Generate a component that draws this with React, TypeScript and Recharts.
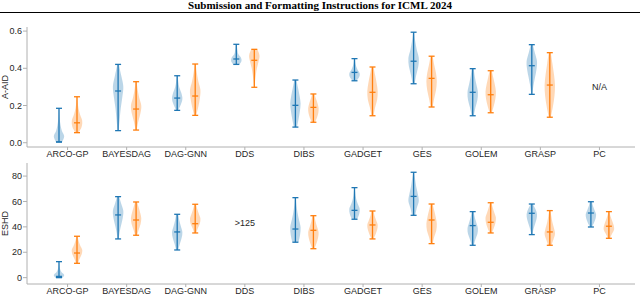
import React from "react";
import { ComposedChart, Bar, XAxis, YAxis, ReferenceDot } from "recharts";

const methods = ["ARCO-GP", "BAYESDAG", "DAG-GNN", "DDS", "DIBS", "GADGET", "GES", "GOLEM", "GRASP", "PC"];

// [min, median, max] per method, null = not available
const aaidBlue = [
  [0.004, 0.004, 0.185], [0.065, 0.278, 0.421], [0.174, 0.24, 0.36], [0.421, 0.45, 0.529], [0.084, 0.201, 0.337],
  [0.333, 0.378, 0.452], [0.317, 0.438, 0.594], [0.145, 0.271, 0.398], [0.26, 0.414, 0.527], null,
];
const aaidOrange = [
  [0.054, 0.107, 0.247], [0.068, 0.181, 0.328], [0.147, 0.251, 0.423], [0.298, 0.443, 0.502], [0.11, 0.19, 0.262],
  [0.145, 0.271, 0.407], [0.192, 0.346, 0.465], [0.161, 0.258, 0.387], [0.137, 0.31, 0.484], null,
];
const eshdBlue = [
  [0, 1, 12.6], [30.5, 49.4, 63.8], [21.8, 36, 49.9], null, [27.9, 38.3, 63],
  [46, 53, 70.9], [49.1, 64, 83], [25.5, 41, 52], [33.9, 50.7, 58], [39.9, 50.9, 59.8],
];
const eshdOrange = [
  [11.3, 19.4, 32.6], [33.4, 45.4, 59.6], [35.2, 42.5, 57.8], null, [22.8, 37.3, 48.8],
  [30.5, 41.5, 52.5], [26.8, 45.4, 58], [35.2, 43.6, 59], [25.5, 36, 52.8], [31, 40.5, 52],
];

// relative violin widths, from min (first) to max (last)
const aaidBlueShape = [
  [0.6, 1, 0.55, 0.3, 0.15, 0.08, 0.05], [0.1, 0.3, 0.5, 0.8, 1, 0.6, 0.15], [0.2, 0.7, 1, 0.8, 0.4, 0.2, 0.1],
  [0.6, 1, 0.9, 0.4, 0.25, 0.15, 0.1], [0.3, 0.6, 0.85, 1, 0.8, 0.5, 0.2], [0.4, 0.9, 1, 0.6, 0.3, 0.15, 0.1],
  [0.2, 0.5, 0.9, 1, 0.6, 0.3, 0.1], [0.2, 0.5, 0.9, 1, 0.7, 0.4, 0.2], [0.1, 0.3, 0.6, 0.9, 1, 0.6, 0.2], null,
];
const aaidOrangeShape = [
  [0.3, 0.9, 1, 0.6, 0.3, 0.15, 0.05], [0.1, 0.4, 0.8, 1, 0.6, 0.3, 0.1], [0.2, 0.6, 0.9, 1, 0.6, 0.3, 0.1],
  [0.05, 0.15, 0.3, 0.5, 0.8, 1, 0.6], [0.3, 0.7, 0.95, 1, 0.8, 0.5, 0.2], [0.2, 0.5, 0.9, 1, 0.8, 0.5, 0.2],
  [0.2, 0.5, 0.85, 1, 0.85, 0.5, 0.2], [0.2, 0.6, 0.9, 1, 0.8, 0.5, 0.2], [0.2, 0.6, 0.9, 1, 0.8, 0.5, 0.2], null,
];
const eshdBlueShape = [
  [0.7, 1, 0.5, 0.25, 0.12, 0.06, 0.03], [0.1, 0.3, 0.6, 0.9, 1, 0.6, 0.2], [0.2, 0.5, 0.85, 1, 0.7, 0.4, 0.2], null,
  [0.6, 0.9, 1, 0.7, 0.4, 0.2, 0.1], [0.5, 0.9, 1, 0.6, 0.3, 0.15, 0.05], [0.3, 0.6, 1, 0.8, 0.5, 0.3, 0.1],
  [0.2, 0.5, 0.9, 1, 0.7, 0.4, 0.2], [0.1, 0.3, 0.6, 0.9, 1, 0.7, 0.2], [0.2, 0.6, 0.9, 1, 0.7, 0.4, 0.2],
];
const eshdOrangeShape = [
  [0.2, 0.5, 0.9, 1, 0.6, 0.3, 0.1], [0.2, 0.5, 0.85, 1, 0.8, 0.5, 0.2], [0.2, 0.5, 0.9, 1, 0.7, 0.4, 0.15], null,
  [0.2, 0.6, 0.9, 1, 0.7, 0.4, 0.2], [0.2, 0.6, 0.9, 1, 0.7, 0.4, 0.2], [0.2, 0.5, 0.9, 1, 0.8, 0.5, 0.2],
  [0.2, 0.6, 0.9, 1, 0.7, 0.4, 0.15], [0.3, 0.7, 1, 0.8, 0.5, 0.3, 0.1], [0.2, 0.6, 1, 0.9, 0.6, 0.3, 0.1],
];

const aaidTicks = [0, 0.2, 0.4, 0.6];
const eshdTicks = [0, 20, 40, 60, 80];
const aaidNote = { method: "PC", value: 0.3, text: "N/A" };
const eshdNote = { method: "DDS", value: 43, text: ">125" };

const BLUE = "#1f77b4";
const ORANGE = "#ff7f0e";
const FRAME = "#b0b0b0";
const TXT = "#262626";
const FONT = "'Liberation Sans', Arial, sans-serif";

function buildRows(blue, orange, blueShape, orangeShape) {
  return methods.map((name, i) => ({
    name,
    blue: blue[i] ? [blue[i][0], blue[i][2]] : null,
    orange: orange[i] ? [orange[i][0], orange[i][2]] : null,
    blueStats: blue[i],
    orangeStats: orange[i],
    blueShape: blueShape[i],
    orangeShape: orangeShape[i],
  }));
}

function curve(pts) {
  let d = "";
  for (let i = 0; i < pts.length - 1; i++) {
    const p0 = pts[i - 1] || pts[i];
    const p1 = pts[i];
    const p2 = pts[i + 1];
    const p3 = pts[i + 2] || pts[i + 1];
    const c1 = [p1[0] + (p2[0] - p0[0]) / 6, p1[1] + (p2[1] - p0[1]) / 6];
    const c2 = [p2[0] - (p3[0] - p1[0]) / 6, p2[1] - (p3[1] - p1[1]) / 6];
    d += ` C${c1[0]},${c1[1]} ${c2[0]},${c2[1]} ${p2[0]},${p2[1]}`;
  }
  return d;
}

function violin(color, key) {
  return (props) => {
    const { x, y, width, height, payload } = props;
    const stats = payload[key + "Stats"];
    const shape = payload[key + "Shape"];
    if (!stats || !shape || height == null) return <g />;
    const cx = x + width / 2;
    const top = y;
    const bottom = y + height;
    const half = 5.2;
    const n = shape.length;
    const left = shape.map((w, i) => [cx - w * half, bottom - (i / (n - 1)) * height]);
    const right = shape.map((w, i) => [cx + w * half, bottom - (i / (n - 1)) * height]).reverse();
    const d = `M${left[0][0]},${left[0][1]}` + curve(left) + ` L${right[0][0]},${right[0][1]}` + curve(right) + " Z";
    const span = stats[2] - stats[0];
    const my = span > 0 ? bottom - ((stats[1] - stats[0]) / span) * height : bottom;
    return (
      <g>
        <path d={d} fill={color} fillOpacity={0.3} stroke="none" />
        <line x1={cx} x2={cx} y1={top} y2={bottom} stroke={color} strokeWidth={1.3} />
        <line x1={cx - 3} x2={cx + 3} y1={top} y2={top} stroke={color} strokeWidth={1.3} />
        <line x1={cx - 3} x2={cx + 3} y1={bottom} y2={bottom} stroke={color} strokeWidth={1.3} />
        <line x1={cx - 3} x2={cx + 3} y1={my} y2={my} stroke={color} strokeWidth={1.3} />
      </g>
    );
  };
}

function yLabel(text) {
  return {
    content: (p) => {
      const vb = p.viewBox || { x: 0, y: 0, width: 0, height: 0 };
      const lx = vb.x + 5;
      const ly = vb.y + vb.height / 2;
      return (
        <text x={lx} y={ly} transform={`rotate(-90 ${lx} ${ly})`} textAnchor="middle" dominantBaseline="central"
          fontSize={9} fill={TXT} fontFamily={FONT}>
          {text}
        </text>
      );
    },
  };
}

function Panel({ rows, domain, ticks, fmt, label, note, height, top, bottom }) {
  return (
    <ComposedChart width={640} height={height} data={rows} margin={{ top, right: 5, bottom: 0, left: 0 }}
      barSize={12} barGap={6}>
      <XAxis dataKey="name" interval={0} padding={{ left: 11, right: 6 }} height={bottom} tickSize={3} tickMargin={1}
        tick={{ fontSize: 9, fill: TXT, fontFamily: FONT }} axisLine={{ stroke: FRAME }} tickLine={{ stroke: FRAME }} />
      <XAxis xAxisId="top" orientation="top" dataKey="name" height={0} tick={false} tickLine={false}
        axisLine={{ stroke: FRAME }} />
      <YAxis type="number" domain={domain} ticks={ticks} allowDataOverflow width={27} tickSize={4} tickMargin={1}
        tickFormatter={fmt} tick={{ fontSize: 9, fill: TXT, fontFamily: FONT }} axisLine={{ stroke: FRAME }}
        tickLine={{ stroke: FRAME }} label={yLabel(label)} />
      <YAxis yAxisId="right" orientation="right" type="number" domain={domain} width={0} tick={false}
        tickLine={false} axisLine={{ stroke: FRAME }} />
      <Bar dataKey="blue" isAnimationActive={false} shape={violin(BLUE, "blue")} />
      <Bar dataKey="orange" isAnimationActive={false} shape={violin(ORANGE, "orange")} />
      <ReferenceDot x={note.method} y={note.value} r={1} fill="none" stroke="none"
        label={{ value: note.text, position: "center", fontSize: 9, fill: TXT, fontFamily: FONT }} />
    </ComposedChart>
  );
}

export default function App() {
  const topRows = buildRows(aaidBlue, aaidOrange, aaidBlueShape, aaidOrangeShape);
  const bottomRows = buildRows(eshdBlue, eshdOrange, eshdBlueShape, eshdOrangeShape);
  return (
    <div style={{ position: "absolute", left: 0, top: 0, width: 640, height: 295, background: "#fff", overflow: "hidden" }}>
      <div style={{ position: "absolute", left: 0, top: 0, width: 640, textAlign: "center", fontFamily: "'Liberation Serif', 'Times New Roman', serif",
        fontWeight: "bold", fontSize: 11, lineHeight: "11px", color: "#000" }}>
        Submission and Formatting Instructions for ICML 2024
      </div>
      <div style={{ position: "absolute", left: 0, top: 12, width: 640, height: 1.3, background: "#000" }} />
      <div style={{ position: "absolute", left: 0, top: 0 }}>
        <Panel rows={topRows} domain={[-0.023, 0.622]} ticks={aaidTicks} fmt={(v) => v.toFixed(1)} label="A-AID"
          note={aaidNote} height={160} top={27} bottom={13} />
      </div>
      <div style={{ position: "absolute", left: 0, top: 150 }}>
        <Panel rows={bottomRows} domain={[-5, 90.3]} ticks={eshdTicks} fmt={(v) => String(v)} label="ESHD"
          note={eshdNote} height={145} top={13} bottom={11} />
      </div>
    </div>
  );
}
